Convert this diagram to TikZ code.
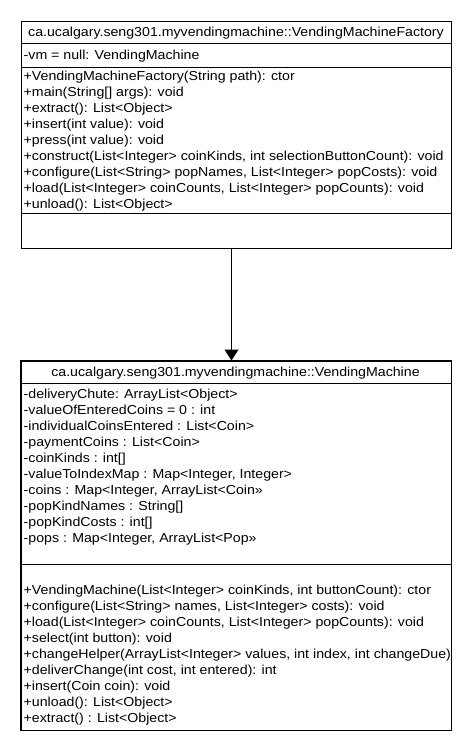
\documentclass[tikz,border=0pt]{standalone}
\usepackage{fontspec}
\setmainfont{Liberation Sans}[FakeStretch=1.09]
\usetikzlibrary{arrows.meta}
\begin{document}
\begin{tikzpicture}[x=1pt,y=-1pt,
  box/.style={draw,line width=1pt,inner sep=0pt,minimum width=430pt},
  sep/.style={line width=1pt},
  txt/.style={anchor=west,inner sep=0pt,text height=9.3pt,text depth=0pt,font=\fontsize{13}{14}\selectfont},
  ttl/.style={txt,anchor=center},
  assoc/.style={line width=1pt,-{Triangle[length=11pt,width=14pt]}}]
\useasboundingbox (0,0) rectangle (470,750);
\fill[white] (0,0) rectangle (470,750);
% ---------- VendingMachineFactory ----------
\node[box,minimum height=227.5pt,anchor=north west] (fac) at (20.5,20.5) {};
\draw[sep] (fac.west |- 0,43) -- (fac.east |- 0,43);
\draw[sep] (fac.west |- 0,67) -- (fac.east |- 0,67);
\draw[sep] (fac.west |- 0,213) -- (fac.east |- 0,213);
\node[ttl] (factitle) at (236,32) {ca.ucalgary.seng301.myvendingmachine::VendingMachineFactory};
\node[txt] (facattr) at (23.5,55) {-vm = null: VendingMachine};
\foreach \t [count=\i from 0] in {
  {+VendingMachineFactory(String path): ctor},
  {+main(String[] args): void},
  {+extract(): List<Object>},
  {+insert(int value): void},
  {+press(int value): void},
  {+construct(List<Integer> coinKinds, int selectionButtonCount): void},
  {+configure(List<String> popNames, List<Integer> popCosts): void},
  {+load(List<Integer> coinCounts, List<Integer> popCounts): void},
  {+unload(): List<Object>}}
  \node[txt] (fm\i) at (23.5,76+16*\i) {\t};
% ---------- VendingMachine ----------
\node[box,minimum height=369pt,anchor=north west] (vm) at (20.5,360.5) {};
\draw[sep] (vm.west |- 0,383) -- (vm.east |- 0,383);
\draw[sep] (vm.west |- 0,564) -- (vm.east |- 0,564);
\node[ttl] (vmtitle) at (235.5,372) {ca.ucalgary.seng301.myvendingmachine::VendingMachine};
\foreach \t [count=\i from 0] in {
  {-deliveryChute: ArrayList<Object>},
  {-valueOfEnteredCoins = 0 : int},
  {-individualCoinsEntered : List<Coin>},
  {-paymentCoins : List<Coin>},
  {-coinKinds : int[]},
  {-valueToIndexMap : Map<Integer, Integer>},
  {-coins : Map<Integer, ArrayList<Coin»},
  {-popKindNames : String[]},
  {-popKindCosts : int[]},
  {-pops : Map<Integer, ArrayList<Pop»}}
  \node[txt] (va\i) at (23.5,394+16*\i) {\t};
\begin{scope}
\clip (20.5,564) rectangle (450,729.5);
\foreach \t [count=\i from 0] in {
  {+VendingMachine(List<Integer> coinKinds, int buttonCount): ctor},
  {+configure(List<String> names, List<Integer> costs): void},
  {+load(List<Integer> coinCounts, List<Integer> popCounts): void},
  {+select(int button): void},
  {+changeHelper(ArrayList<Integer> values, int index, int changeDue):},
  {+deliverChange(int cost, int entered): int},
  {+insert(Coin coin): void},
  {+unload(): List<Object>},
  {+extract() : List<Object>}}
  \node[txt] (vmm\i) at (23.5,590+16*\i) {\t};
\end{scope}
\draw[box] (vm.north west) rectangle (vm.south east);
% ---------- connector ----------
\draw[assoc] ([xshift=-4.5pt]fac.south) -- ([xshift=-4.5pt]vm.north);
\end{tikzpicture}
\end{document}
